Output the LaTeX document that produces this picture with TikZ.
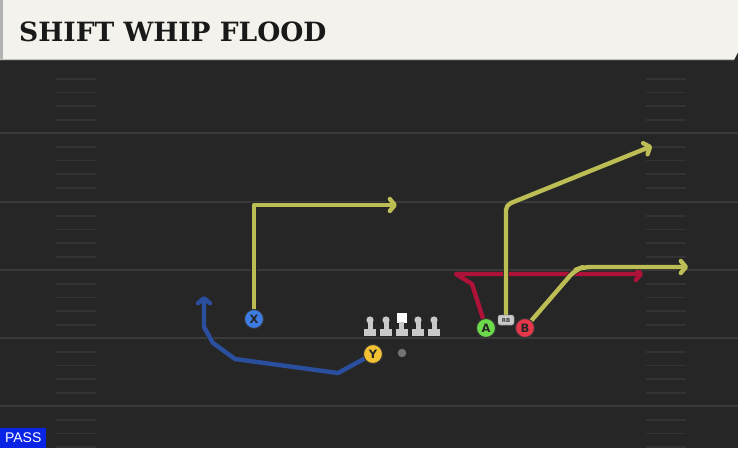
\documentclass[tikz,border=0pt]{standalone}
\usepackage{fontspec}
\setmainfont{DejaVu Sans}
\newfontfamily\titlefont{DejaVu Serif}
\newfontfamily\passfont{Liberation Sans}
\usetikzlibrary{arrows.meta}
\definecolor{bg}{HTML}{262626}
\definecolor{yardline}{HTML}{3A3A3A}
\definecolor{hashc}{HTML}{333333}
\definecolor{cream}{HTML}{F4F2EC}
\definecolor{yroutec}{HTML}{BDBD55}
\definecolor{rroutec}{HTML}{AE1238}
\definecolor{broutec}{HTML}{2B4F9F}
\definecolor{xfill}{HTML}{3D7DE3}
\definecolor{yfill}{HTML}{F2C232}
\definecolor{afill}{HTML}{6CD94B}
\definecolor{bfill}{HTML}{E2384A}
\definecolor{linec}{HTML}{C9C9C9}
\definecolor{passblue}{HTML}{0A24E6}
\tikzset{
  route/.style={line width=4.4pt, line join=round, line cap=round,
    -{Straight Barb[length=5pt,width=12pt,line cap=round,line join=round]},
    preaction={draw=black!85, line width=5.6pt, -{Straight Barb[length=5pt,width=12pt]}}},
  yroute/.style={route, draw=yroutec},
  rroute/.style={route, draw=rroutec},
  broute/.style={route, draw=broutec},
  player/.style={circle, draw=black!80, line width=1pt, minimum size=19pt, inner sep=0pt,
    font=\bfseries\fontsize{11.5}{11.5}\selectfont, text=black!85},
  rbtag/.style={rounded corners=2pt, fill=linec, draw=black!60, line width=0.4pt,
    minimum width=16pt, minimum height=10pt, inner sep=0pt,
    font=\bfseries\fontsize{5.5}{5.5}\selectfont, text=black!75},
  lineman/.style={fill=linec},
}
\begin{document}
\begin{tikzpicture}[x=1pt,y=-1pt]
\fill[bg] (0,0) rectangle (738,448);
\useasboundingbox (0,0) rectangle (738,448);
% yard lines and hashes
\foreach \L in {65,133,202,270,338,406}{
  \draw[yardline, line width=2pt] (0,\L) -- (738,\L);
  \foreach \d in {14,27.5,41,55}{
    \draw[hashc, line width=1.3pt] (56,\L+\d) -- (96,\L+\d);
    \draw[hashc, line width=1.3pt] (646,\L+\d) -- (686,\L+\d);
  }
}
% title bar
\fill[black!85] (0,59) rectangle (738,66);
\fill[cream] (0,0) -- (738,0) -- (738,52) -- (734,60) -- (0,60) -- cycle;
\fill[black!30] (0,0) rectangle (3,60);
\draw[black!25, line width=0.8pt] (0,59.6) -- (734,59.6);
\node[anchor=west, inner sep=0pt, font=\titlefont\bfseries\fontsize{26.5}{26.5}\selectfont, text=black!90] (title) at (19,32) {SHIFT WHIP FLOOD};
% linemen
\foreach \x in {370,386,418,434}{
  \fill[lineman] (\x,320) circle (3.6pt);
  \fill[lineman] (\x-2.5,320) rectangle (\x+2.5,330);
  \fill[lineman] (\x-6,329) rectangle (\x+6,335.5);
}
\fill[white] (397,313) rectangle (406.5,322.5);
\fill[linec] (399.2,322) rectangle (404.2,330);
\fill[linec] (395.7,329) rectangle (407.7,335.5);
% players
\node[player, fill=xfill] (X) at (254,319) {X};
\node[player, fill=yfill] (Y) at (373,354) {Y};
\node[circle, fill=black!55, minimum size=8.5pt, inner sep=0pt] (QB) at (402,353) {};
\node[player, fill=afill] (A) at (486,328) {A};
\node[player, fill=bfill] (B) at (525,328) {B};
\node[rbtag] (RB) at (506,320) {RB};
% route waypoints
\coordinate (x1) at (254,205);
\coordinate (x2) at (397,205);
\coordinate (y1) at (338,373);
\coordinate (y2) at (235,359);
\coordinate (y3) at (213,343);
\coordinate (y4) at (204,327);
\coordinate (y5) at (204,296);
\coordinate (a1) at (472,284);
\coordinate (a2) at (456,274);
\coordinate (a3) at (643,274);
\coordinate (r1) at (506,205);
\coordinate (r2) at (652,146);
\coordinate (b1) at (575,270);
\coordinate (b2) at (688,267);
% routes
\draw[rroute] (A) -- (a1) -- (a2) -- (a3);
\draw[yroute] (X) -- (x1) -- (x2);
\draw[broute] (Y) -- (y1) -- (y2) -- (y3) -- (y4) -- (y5);
\draw[yroute, rounded corners=5pt] (RB) -- (r1) -- (r2);
\draw[yroute, rounded corners=8pt] (B) -- (b1) -- (583,267) -- (b2);
% redraw nodes on top
\node[player, fill=xfill] at (X) {X};
\node[player, fill=yfill] at (Y) {Y};
\node[player, fill=afill] at (A) {A};
\node[player, fill=bfill] at (B) {B};
\node[rbtag] at (RB) {RB};
% pass label
\node[anchor=south west, fill=passblue, text=white, inner xsep=3pt, minimum height=20pt, minimum width=46pt,
  font=\passfont\fontsize{14}{14}\selectfont] (pass) at (0,448) {PASS};
\end{tikzpicture}
\end{document}
